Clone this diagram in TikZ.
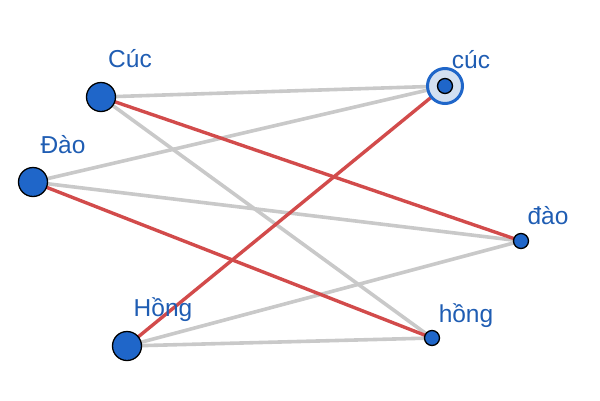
\documentclass[tikz,border=0pt]{standalone}
\usepackage{fontspec}
\setmainfont{Liberation Sans}
\definecolor{nodeblue}{HTML}{1F66C9}
\definecolor{textblue}{HTML}{1F5DB3}
\definecolor{edgegray}{HTML}{C9C9C9}
\definecolor{edgered}{HTML}{D24B4B}
\definecolor{ringfill}{HTML}{D3E0F1}
\begin{document}
\begin{tikzpicture}[x=1pt,y=-1pt,
  bignode/.style={circle,draw=black,line width=1.3pt,fill=nodeblue,minimum size=29pt,inner sep=0pt},
  smallnode/.style={circle,draw=black,line width=1.3pt,fill=nodeblue,minimum size=15pt,inner sep=0pt},
  ringnode/.style={circle,draw=nodeblue,line width=3pt,fill=ringfill,minimum size=35pt,inner sep=0pt},
  lbl/.style={text=textblue,font=\fontsize{24.5}{28}\selectfont,anchor=base,inner sep=0pt},
  grayedge/.style={draw=edgegray,line width=3.6pt},
  rededge/.style={draw=edgered,line width=3.4pt}]
\useasboundingbox (0,0) rectangle (600,400);
% coordinates
\coordinate (Cuc) at (101,97);
\coordinate (Dao) at (33,182);
\coordinate (Hong) at (127,346);
\coordinate (cuc) at (445,86);
\coordinate (dao) at (521,241);
\coordinate (hong) at (432,338);
% edges
\draw[grayedge] (Cuc) -- (cuc);
\draw[grayedge] (Cuc) -- (hong);
\draw[grayedge] (Dao) -- (cuc);
\draw[grayedge] (Dao) -- (dao);
\draw[grayedge] (Hong) -- (dao);
\draw[grayedge] (Hong) -- (hong);
\draw[rededge] (Cuc) -- (dao);
\draw[rededge] (Dao) -- (hong);
\draw[rededge] (Hong) -- (cuc);
% nodes
\node[bignode] (nCuc) at (Cuc) {};
\node[bignode] (nDao) at (Dao) {};
\node[bignode] (nHong) at (Hong) {};
\node[ringnode] (ring) at (cuc) {};
\node[smallnode] (ncuc) at (cuc) {};
\node[smallnode] (ndao) at (dao) {};
\node[smallnode] (nhong) at (hong) {};
% labels
\node[lbl] (lCuc) at (130,67) {Cúc};
\node[lbl] (lDao) at (63,153) {Đào};
\node[lbl] (lHong) at (163,316) {Hồng};
\node[lbl] (lcuc) at (471,68) {cúc};
\node[lbl] (ldao) at (548,224) {đào};
\node[lbl] (lhong) at (466,322) {hồng};
\end{tikzpicture}
\end{document}
